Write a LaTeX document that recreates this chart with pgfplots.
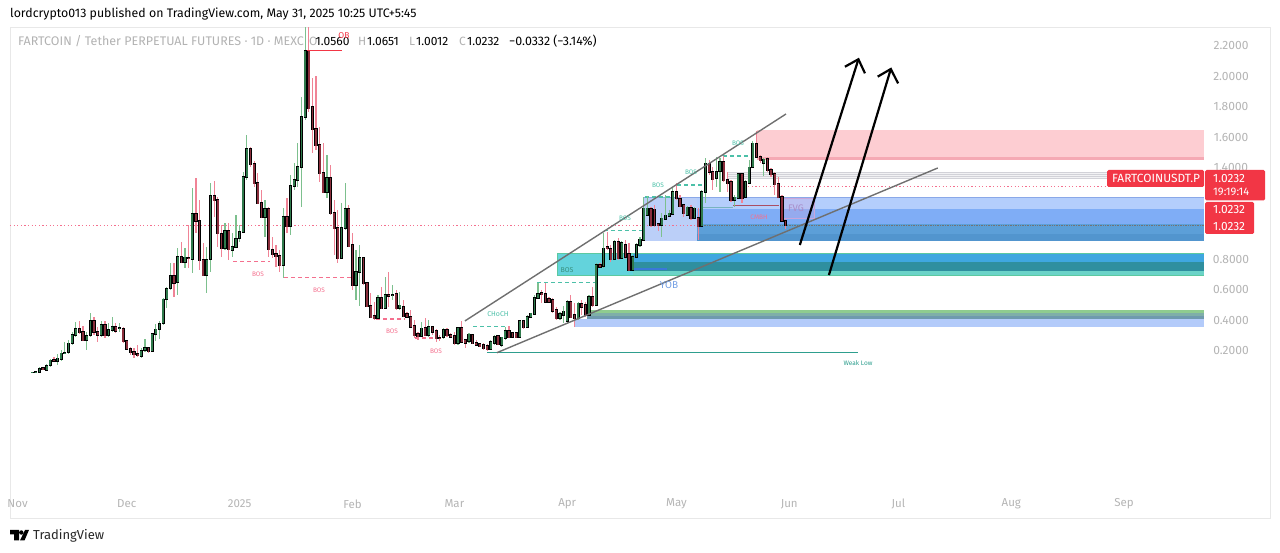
\documentclass[border=0pt]{standalone}
\usepackage{pgfplots}
\usepackage{pgfplotstable}
\usepackage{fontspec}
\pgfplotsset{compat=1.18}
\setmainfont{Fira Sans}
\definecolor{wickG}{HTML}{7DC08E}
\definecolor{wickR}{HTML}{F08496}
\definecolor{bodyG}{HTML}{2F7A4C}
\definecolor{bodyR}{HTML}{8A2E3C}
\definecolor{tvred}{HTML}{F23645}
\definecolor{lab}{HTML}{B4B4B4}
\definecolor{bosR}{HTML}{F4708E}
\definecolor{bosG}{HTML}{4CC0A8}
\definecolor{zRed}{HTML}{FDCDD2}
\definecolor{zRedD}{HTML}{F5A9B4}
\definecolor{zGrey}{HTML}{F2F2F4}
\definecolor{zGreyD}{HTML}{D2D2D8}
\definecolor{zB1}{HTML}{B4CEFC}
\definecolor{zBL}{HTML}{BBCFF8}
\definecolor{zB2}{HTML}{7FADF6}
\definecolor{zB3}{HTML}{5C9FD8}
\definecolor{zB4}{HTML}{5295CE}
\definecolor{zBtop}{HTML}{8AA8E8}
\definecolor{zCy}{HTML}{63D3DC}
\definecolor{zCyB}{HTML}{5CC9A0}
\definecolor{zT1}{HTML}{3FA7E0}
\definecolor{zT2}{HTML}{2F8F9F}
\definecolor{zT3}{HTML}{6BD3C8}
\definecolor{zBline}{HTML}{3A78D8}
\definecolor{zL1}{HTML}{8FCC8F}
\definecolor{zL2}{HTML}{7FAFA8}
\definecolor{zL3}{HTML}{6F9AAE}
\definecolor{zL4}{HTML}{B3CBFA}
\definecolor{weak}{HTML}{2E9E8E}
\definecolor{chan}{HTML}{6F6F6F}
\definecolor{fvg}{HTML}{C8A6DC}
\definecolor{fvgT}{HTML}{A88CC8}
\pgfplotstableread{
d o h l c
-57 .058 .060 .056 .059
-56 .060 .064 .058 .062
-55 .062 .093 .058 .084
-53 .073 .115 .071 .104
-52 .104 .149 .097 .139
-50 .134 .178 .110 .152
-49 .147 .206 .136 .184
-48 .188 .261 .184 .189
-47 .189 .272 .180 .250
-46 .248 .327 .239 .307
-45 .302 .388 .294 .346
-42 .272 .327 .206 .298
-41 .300 .451 .294 .399
-38 .305 .399 .294 .370
-36 .305 .381 .289 .337
-35 .333 .421 .324 .359
-33 .348 .386 .327 .352
-27 .167 .217 .152 .202
-26 .202 .276 .195 .222
-24 .200 .316 .195 .311
-23 .311 .377 .267 .342
-22 .340 .399 .276 .379
-21 .379 .545 .370 .539
-20 .539 .617 .480 .609
-19 .609 .775 .600 .692
-17 .648 .873 .567 .818
-15 .781 .873 .742 .814
-13 .801 1.269 .709 1.098
-9 .698 .884 .578 .797
-8 .803 1.302 .720 1.216
-4 .873 1.037 .862 .987
-2 .862 .971 .818 .884
-1 .880 1.092 .873 .936
0 .936 1.026 .917 .980
1 .980 1.374 .971 1.341
2 1.341 1.616 1.321 1.525
7 1.079 1.190 .949 1.131
12 .764 1.135 .676 1.081
14 1.019 1.354 .960 1.282
15 1.282 1.433 1.256 1.321
16 1.321 1.564 1.275 1.407
17 1.407 1.866 1.144 1.734
18 1.734 2.325 1.715 2.167
24 1.243 1.485 1.203 1.334
28 .810 1.170 .805 1.007
29 1.007 1.302 .993 1.131
32 .633 .862 .534 .718
33 .718 .895 .495 .810
38 .416 .567 .410 .548
40 .482 .685 .482 .567
42 .563 .633 .534 .567
44 .482 .587 .470 .500
50 .298 .392 .289 .348
52 .305 .403 .294 .359
56 .287 .348 .276 .337
60 .250 .359 .239 .353
63 .261 .316 .250 .309
69 .211 .272 .206 .261
70 .250 .305 .239 .294
72 .239 .294 .228 .289
73 .283 .359 .272 .333
77 .289 .403 .283 .396
79 .355 .436 .348 .425
80 .421 .451 .414 .447
81 .442 .567 .436 .549
82 .545 .648 .539 .576
88 .414 .458 .403 .442
89 .436 .495 .386 .460
90 .392 .534 .386 .523
93 .414 .523 .403 .512
96 .436 .567 .436 .556
98 .501 .775 .495 .764
100 .753 .971 .742 .873
103 .801 .928 .797 .917
105 .807 .923 .801 .910
108 .731 .829 .727 .818
109 .814 .906 .807 .895
110 .895 .945 .884 .932
111 .927 1.212 .923 1.135
112 1.091 1.216 1.085 1.135
116 1.026 1.102 .949 1.070
117 1.063 1.223 1.059 1.091
118 1.080 1.124 1.076 1.102
119 1.098 1.266 1.091 1.244
123 1.091 1.150 1.085 1.142
125 1.070 1.146 1.063 1.135
127 1.019 1.255 1.015 1.244
128 1.238 1.463 1.168 1.430
131 1.332 1.474 1.277 1.376
132 1.376 1.463 1.244 1.441
136 1.190 1.223 1.146 1.207
137 1.201 1.365 1.194 1.360
139 1.207 1.321 1.201 1.310
140 1.299 1.452 1.295 1.404
141 1.404 1.579 1.397 1.561
144 1.430 1.463 1.347 1.456
}\upT
\pgfplotstableread{
d o h l c
-54 .088 .092 .075 .079
-51 .145 .163 .128 .136
-44 .346 .399 .311 .322
-43 .324 .364 .263 .272
-40 .399 .421 .305 .327
-39 .327 .359 .257 .307
-37 .370 .399 .283 .305
-34 .359 .381 .320 .333
-32 .346 .355 .254 .263
-31 .267 .272 .206 .215
-30 .215 .228 .173 .193
-29 .193 .217 .152 .180
-28 .180 .239 .163 .171
-25 .222 .228 .189 .200
-18 .692 .775 .556 .648
-16 .818 .917 .775 .781
-14 .814 1.026 .742 .810
-12 1.098 1.334 .974 1.054
-11 1.054 1.190 .731 .797
-10 .797 .906 .692 .698
-7 1.216 1.315 1.080 1.190
-6 1.190 1.210 .884 .974
-5 .971 1.026 .818 .873
-3 .987 1.037 .797 .866
3 1.525 1.538 1.407 1.426
4 1.426 1.446 1.275 1.302
5 1.302 1.367 1.168 1.170
6 1.170 1.256 1.070 1.079
8 1.131 1.146 .818 .869
9 .866 .949 .807 .834
10 .840 .895 .753 .823
11 .823 .862 .720 .764
13 1.081 1.203 .971 1.019
19 2.167 2.325 1.767 1.793
20 1.800 1.990 1.498 1.656
21 1.656 2.003 1.518 1.551
22 1.551 1.669 1.308 1.367
23 1.367 1.564 1.236 1.243
25 1.334 1.420 1.092 1.105
26 1.105 1.190 .830 1.007
27 1.007 1.125 .777 .810
30 1.131 1.157 .882 .889
31 .895 .974 .600 .633
34 .810 .816 .633 .646
35 .646 .652 .489 .495
36 .495 .580 .416 .423
37 .430 .521 .403 .416
39 .548 .620 .475 .482
41 .567 .718 .489 .562
43 .574 .600 .469 .482
45 .490 .534 .421 .429
46 .447 .458 .414 .425
47 .425 .469 .348 .359
48 .364 .403 .283 .305
49 .316 .327 .272 .298
51 .353 .414 .298 .305
53 .359 .364 .305 .327
54 .333 .342 .261 .283
55 .287 .305 .267 .285
57 .337 .348 .294 .305
58 .309 .316 .289 .294
59 .298 .327 .239 .250
61 .353 .399 .250 .261
62 .272 .276 .217 .254
64 .305 .311 .246 .250
65 .254 .272 .237 .241
66 .250 .254 .228 .233
67 .239 .250 .206 .217
68 .235 .246 .202 .211
71 .298 .305 .239 .246
74 .333 .364 .283 .289
75 .320 .327 .289 .294
76 .320 .327 .285 .289
78 .396 .403 .342 .355
83 .580 .600 .512 .574
84 .578 .643 .512 .523
85 .545 .556 .512 .523
86 .539 .545 .447 .464
87 .469 .490 .403 .414
91 .523 .567 .414 .421
92 .436 .512 .355 .414
94 .508 .534 .436 .490
95 .501 .523 .425 .436
97 .556 .622 .490 .501
99 .764 .775 .742 .753
101 .884 .982 .862 .873
102 .873 .895 .786 .801
104 .917 .939 .797 .807
106 .899 .928 .801 .818
107 .836 .906 .727 .731
113 1.135 1.146 1.015 1.026
114 1.130 1.160 1.015 1.026
115 1.032 1.037 .989 1.026
120 1.244 1.299 1.190 1.201
121 1.201 1.223 1.142 1.150
122 1.157 1.164 1.080 1.102
124 1.142 1.157 1.059 1.070
126 1.076 1.135 .927 1.019
129 1.430 1.452 1.354 1.376
130 1.376 1.408 1.255 1.325
133 1.441 1.478 1.310 1.321
134 1.321 1.376 1.244 1.299
135 1.310 1.321 1.179 1.190
138 1.360 1.369 1.168 1.201
142 1.561 1.644 1.463 1.474
143 1.474 1.485 1.430 1.452
145 1.463 1.470 1.376 1.387
146 1.387 1.397 1.343 1.358
147 1.365 1.376 1.223 1.293
148 1.295 1.343 1.201 1.207
149 1.212 1.223 1.048 1.054
150 1.0560 1.0651 1.0012 1.0232
}\downT
\newcommand\zone[5]{\addplot[forget plot,draw=none,fill=#1] coordinates {(#2,#4) (#3,#4) (#3,#5) (#2,#5)} --cycle;}
\newcommand\seg[5]{\addplot[forget plot,no markers,#1] coordinates {(#2,#4) (#3,#5)};}
\newcommand\wicks[2]{\addplot[forget plot,draw=none,no markers,error bars/.cd,y dir=both,y explicit,error mark=none,error bar style={line width=1.2pt,draw=#2,solid}] table[x=d,y=c,y error plus expr=\thisrow{h}-\thisrow{c},y error minus expr=\thisrow{c}-\thisrow{l}] {#1};}
\newcommand\bodies[4]{\addplot[forget plot,draw=none,no markers,error bars/.cd,y dir=both,y explicit,error mark=none,error bar style={line width=#3,draw=#2,solid}] table[x=d,y=c,y error plus expr={max(\thisrow{o},\thisrow{c})-\thisrow{c}+#4},y error minus expr={\thisrow{c}-min(\thisrow{o},\thisrow{c})+#4}] {#1};}
\newcommand\tx[5][center]{\node[anchor=#1,inner sep=0pt,font=\fontsize{#4}{#4}\selectfont,text=#5] at ({#2pt},{(553-#3)*1pt})}
\newcommand\bx[5]{\fill[#5,rounded corners=1.5pt] ({#1pt},{(553-#2)*1pt}) rectangle ({#3pt},{(553-#4)*1pt});}
\begin{document}
\begin{tikzpicture}
\useasboundingbox (0,0) rectangle (1280pt,553pt);
\begin{axis}[
  at={(10pt,35pt)},anchor=south west,scale only axis,width=1260pt,height=491pt,
  xmin=-63.08,xmax=283.08,ymin=-0.8951,ymax=2.3246,
  axis line style={draw=black!9,line width=0.8pt},
  major tick length=0pt,
  xtick={-61,-31,0,31,59,90,120,151,181,212,243},
  xticklabels={Nov,Dec,2025,Feb,Mar,Apr,May,Jun,Jul,Aug,Sep},
  xticklabel style={anchor=center,yshift=14pt,text=lab,font=\fontsize{11.5}{12}\selectfont},
  ytick={0.2,0.4,0.6,0.8,1.4,1.6,1.8,2.0,2.2},
  yticklabels={0.2000,0.4000,0.6000,0.8000,1.4000,1.6000,1.8000,2.0000,2.2000},
  yticklabel pos=right,
  yticklabel style={anchor=center,xshift=-39pt,text=lab,font=\fontsize{12}{12}\selectfont},
]
% supply zone
\zone{zRed}{142.1}{265}{1.452}{1.649}
\zone{zRedD}{142.1}{265}{1.455}{1.472}
% grey band
\zone{zGrey}{133.9}{265}{1.334}{1.374}
\seg{zGreyD,line width=.6pt}{133.9}{265}{1.374}{1.374}
\seg{zGreyD,line width=.6pt}{133.9}{265}{1.358}{1.358}
\seg{zGreyD,line width=.6pt}{133.9}{265}{1.345}{1.345}
\seg{zGreyD,line width=.6pt}{133.9}{265}{1.334}{1.334}
\seg{bosR,dash pattern=on 1.2pt off 2.4pt,line width=1pt}{139.7}{265}{1.277}{1.277}
% blue demand zone
\zone{zBL}{110.8}{125.6}{.918}{1.210}
\zone{zB1}{125.6}{265}{1.131}{1.210}
\zone{zB2}{125.6}{265}{1.030}{1.131}
\zone{zB3}{125.6}{265}{.965}{1.030}
\zone{zB4}{125.6}{265}{.918}{.965}
\seg{zBtop,line width=.8pt}{110.8}{265}{1.210}{1.210}
\seg{black!55,densely dotted,line width=.7pt}{125.6}{265}{1.022}{1.022}
% teal zone
\zone{zCy}{87.2}{108.1}{.698}{.836}
\zone{zT1}{108.1}{265}{.784}{.836}
\zone{zT2}{108.1}{265}{.725}{.784}
\zone{zT3}{108.1}{265}{.698}{.725}
\seg{zCyB,line width=1pt}{87.2}{265}{.836}{.836}
\seg{zCyB,line width=1pt}{87.2}{265}{.698}{.698}
\seg{zCyB,line width=1pt}{87.2}{87.2}{.698}{.836}
\seg{zBline,line width=1.4pt}{108.1}{117.4}{.738}{.738}
% lower zone
\zone{zL4}{92.1}{265}{.357}{.410}
\zone{zL1}{95.4}{265}{.446}{.466}
\zone{zL2}{95.4}{265}{.428}{.446}
\zone{zL3}{95.4}{265}{.410}{.428}
% weak low
\seg{weak,line width=1pt}{68}{169.9}{.193}{.193}
% price line
\seg{bosR,dash pattern=on 1.2pt off 2.4pt,line width=1pt}{-63.08}{125}{1.0232}{1.0232}
% FVG
\addplot[forget plot,draw=fvg,fill=fvg,fill opacity=.3,line width=.6pt] coordinates {(149.3,1.072) (158,1.072) (158,1.203) (149.3,1.203)} --cycle;
% structure dashes
\seg{bosR,dash pattern=on 4pt off 3pt,line width=1.3pt}{-1.8}{8.3}{.786}{.786}
\seg{bosR,dash pattern=on 4pt off 3pt,line width=1.3pt}{12.2}{31.2}{.681}{.681}
\seg{bosR,dash pattern=on 4pt off 3pt,line width=1.3pt}{37.5}{45.4}{.410}{.410}
\seg{bosR,dash pattern=on 4pt off 3pt,line width=1.3pt}{48.2}{53.2}{.285}{.285}
\seg{bosG,dash pattern=on 4pt off 3pt,line width=1.3pt}{64.2}{74.3}{.359}{.359}
\seg{bosG,dash pattern=on 4pt off 3pt,line width=1.3pt}{81.7}{98.2}{.648}{.648}
\seg{bosG,dash pattern=on 4pt off 3pt,line width=1.3pt}{100.1}{110.8}{.989}{.989}
\seg{bosG,dash pattern=on 4pt off 3pt,line width=1.3pt}{111.4}{118.8}{1.21}{1.21}
\seg{bosG,dash pattern=on 4pt off 3pt,line width=1.3pt}{120.2}{127.9}{1.289}{1.289}
\seg{bosG,dash pattern=on 4pt off 3pt,line width=1.3pt}{132.8}{141}{1.479}{1.479}
\seg{black!20!bosG,line width=.7pt,opacity=.5}{127}{135.6}{1.14}{1.14}
\seg{black!30!bosR,line width=1pt}{135.6}{148.2}{1.151}{1.151}
% candles
\wicks{\upT}{wickG}
\wicks{\downT}{wickR}
\bodies{\upT}{black}{3.2pt}{.004}
\bodies{\downT}{black}{3.2pt}{.004}
\bodies{\upT}{bodyG}{1.7pt}{-.002}
\bodies{\downT}{bodyR}{1.7pt}{-.002}
% order block
\seg{tvred,line width=1.8pt}{18.5}{28.1}{2.170}{2.170}
% channel
\seg{chan,line width=1.4pt}{61.9}{150.1}{.397}{1.754}
\seg{chan,line width=1.4pt}{70.7}{191.8}{.189}{1.400}
% arrows
\addplot[forget plot,no markers,black,line width=2.2pt] coordinates {(153.9,.895) (170,2.113)};
\addplot[forget plot,no markers,black,line width=2.2pt] coordinates {(166.3,2.064) (170,2.113) (171.8,2.021)};
\addplot[forget plot,no markers,black,line width=2.2pt] coordinates {(161.9,.698) (178.9,2.049)};
\addplot[forget plot,no markers,black,line width=2.2pt] coordinates {(175.3,1.999) (178.9,2.049) (180.9,1.955)};
\end{axis}
% header
\tx[west]{10}{14}{12.35}{black}{lordcrypto013 published on TradingView.com, May 31, 2025 10:25 UTC+5:45};
\tx[west]{18}{41.5}{12.5}{black!30}{FARTCOIN / Tether PERPETUAL FUTURES · 1D · MEXC};
\tx[west]{309}{41.5}{12}{black!30}{O};
\tx[west]{315.5}{41.5}{12}{black}{1.0560};
\tx[west]{358}{41.5}{12}{black!30}{H};
\tx[west]{367}{41.5}{12}{black}{1.0651};
\tx[west]{409}{41.5}{12}{black!30}{L};
\tx[west]{416}{41.5}{12}{black}{1.0012};
\tx[west]{459}{41.5}{12}{black!30}{C};
\tx[west]{467}{41.5}{12}{black}{1.0232};
\tx[west]{509}{41.5}{12.4}{black}{−0.0332 (−3.14\%)};
% annotations
\tx{344}{36}{8.5}{tvred}{OB};
\tx{258}{274}{6.5}{bosR}{BOS};
\tx{319}{290}{6.5}{bosR}{BOS};
\tx{392}{331}{6.5}{bosR}{BOS};
\tx{436}{351}{6.5}{bosR}{BOS};
\tx{498}{314}{7}{bosG}{CHoCH};
\tx{567}{270}{7}{black!25!bosG}{BOS};
\tx{625}{218}{6.5}{bosG}{BOS};
\tx{658}{185}{6.5}{bosG}{BOS};
\tx{691}{172}{6.5}{bosG}{BOS};
\tx{738}{143}{6.5}{bosG}{BOS};
\tx{759}{217}{6.5}{bosR}{CMBH};
\tx{796}{208}{9.5}{fvgT}{FVG};
\tx{669}{285}{10}{zBline!70}{YOB};
\tx{858}{363}{6.5}{weak}{Weak Low};
% price tags
\bx{1107}{170}{1204}{187}{tvred}
\bx{1205}{170}{1265}{200.5}{tvred}
\bx{1205}{202}{1254}{234}{tvred}
\tx[west]{1112}{178.5}{11.9}{white}{FARTCOINUSDT.P};
\tx[west]{1213}{178.5}{11.9}{white}{1.0232};
\tx[west]{1213}{192}{11}{white}{19:19:14};
\tx[west]{1213}{209.5}{11.9}{white}{1.0232};
\tx[west]{1213}{226.5}{11.9}{white}{1.0232};
% logo
\fill[black] (10pt,23pt) -- (19pt,23pt) -- (19pt,12.5pt) -- (14pt,12.5pt) -- (14pt,18.5pt) -- (10pt,18.5pt) -- cycle;
\fill[black] (21.3pt,20.5pt) circle (2.2pt);
\fill[black] (25pt,23pt) -- (29pt,23pt) -- (24.5pt,12.5pt) -- (20pt,12.5pt) -- cycle;
\tx[west]{33}{535.5}{13}{black!85}{TradingView};
\end{tikzpicture}
\end{document}
